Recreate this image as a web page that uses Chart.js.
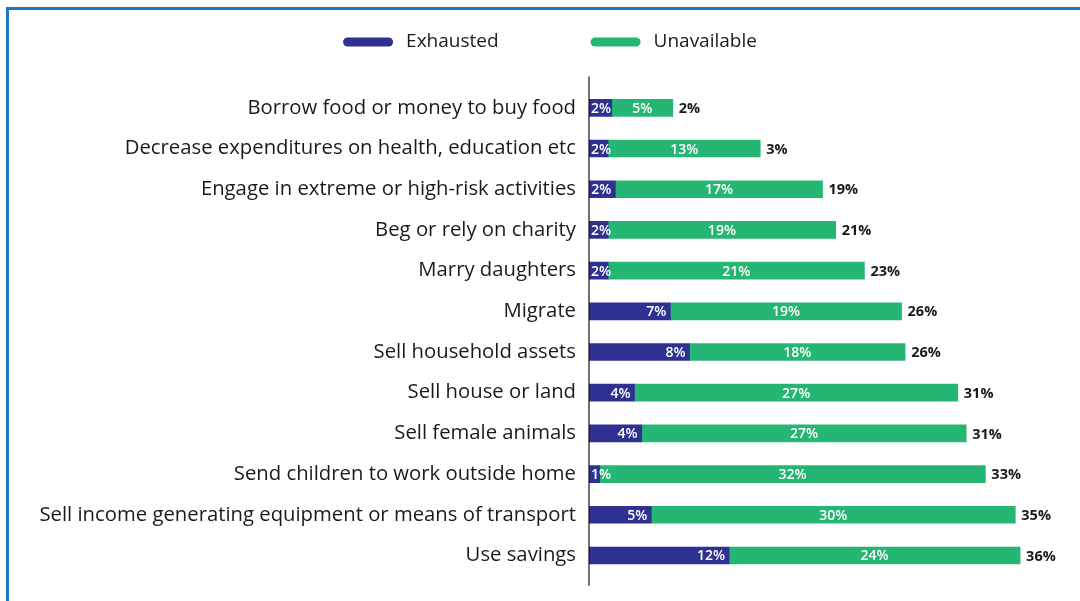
<!DOCTYPE html>
<html>
<head>
<meta charset="utf-8">
<script src="https://cdn.jsdelivr.net/npm/chart.js@4/dist/chart.umd.min.js"></script>
<style>
  html, body { margin: 0; padding: 0; background: #fff; }
  #wrap { position: relative; width: 1080px; height: 601px; overflow: hidden; }
  #frame { position: absolute; left: 6px; top: 7px; width: 1100px; height: 700px;
           border-left: 3px solid #1f78c1; border-top: 3px solid #1f78c1; }
  #chart { position: absolute; left: 0; top: 0; }
</style>
</head>
<body>
<div id="wrap">
  <div id="frame"></div>
  <canvas id="chart" width="1080" height="601"></canvas>
</div>
<script>
const categories = [
  'Borrow food or money to buy food',
  'Decrease expenditures on health, education etc',
  'Engage in extreme or high-risk activities',
  'Beg or rely on charity',
  'Marry daughters',
  'Migrate',
  'Sell household assets',
  'Sell house or land',
  'Sell female animals',
  'Send children to work outside home',
  'Sell income generating equipment or means of transport',
  'Use savings'
];
const exhausted   = [1.9, 1.6, 2.2, 1.6, 1.6, 6.8, 8.4, 3.8, 4.4, 0.9, 5.2, 11.7];
const unavailable = [5.1, 12.7, 17.3, 19.0, 21.4, 19.3, 18.0, 27.0, 27.1, 32.2, 30.4, 24.3];
// total labels as printed in the source (first two don't add up, kept as shown)
const totalLabels = ['2%', '3%', '19%', '21%', '23%', '26%', '26%', '31%', '31%', '33%', '35%', '36%'];
const seriesNames = ['Exhausted', 'Unavailable'];

const BLUE = '#2e3192';
const GREEN = '#26b673';
const TEXT = '#1a1a1a';
const FONT = '"Open Sans", sans-serif';

// legend drawn by hand: the gap between the two items is wider than Chart.js allows
const legendPlugin = {
  id: 'pillLegend',
  afterDraw(chart) {
    const ctx = chart.ctx;
    ctx.save();
    ctx.font = '19px ' + FONT;
    ctx.textBaseline = 'middle';
    const cols = [BLUE, GREEN];
    const widths = seriesNames.map(n => ctx.measureText(n).width);
    const total = 50 + 13 + widths[0] + 92 + 50 + 13 + widths[1];
    let x = 550 - total / 2;
    const y = 42;
    seriesNames.forEach((name, i) => {
      ctx.fillStyle = cols[i];
      ctx.beginPath();
      ctx.roundRect(x, y - 4.5, 50, 9, 4.5);
      ctx.fill();
      ctx.fillStyle = TEXT;
      ctx.textAlign = 'left';
      ctx.fillText(name, x + 63, y);
      x += 63 + widths[i] + 92;
    });
    ctx.restore();
  }
};

const labelPlugin = {
  id: 'barLabels',
  afterDatasetsDraw(chart) {
    const ctx = chart.ctx;
    const area = chart.chartArea;
    ctx.save();
    ctx.textBaseline = 'middle';
    const inner = '600 14px ' + FONT;
    const outer = '700 14.5px ' + FONT;
    const m0 = chart.getDatasetMeta(0);
    const m1 = chart.getDatasetMeta(1);
    ctx.font = inner;
    m0.data.forEach((bar, i) => {
      const txt = Math.round(exhausted[i]) + '%';
      const w = ctx.measureText(txt).width;
      let right = bar.x - 4;
      if (right - w < area.left + 2) right = area.left + 2 + w;
      ctx.fillStyle = '#fff';
      ctx.textAlign = 'right';
      ctx.fillText(txt, right, bar.y + 1);
    });
    m1.data.forEach((bar, i) => {
      ctx.font = inner;
      ctx.fillStyle = '#fff';
      ctx.textAlign = 'center';
      ctx.fillText(Math.round(unavailable[i]) + '%', (bar.base + bar.x) / 2, bar.y + 1);
      ctx.font = outer;
      ctx.fillStyle = TEXT;
      ctx.textAlign = 'left';
      ctx.fillText(totalLabels[i], bar.x + 6, bar.y + 1);
    });
    // vertical axis line, a bit longer than the category band
    ctx.strokeStyle = '#111';
    ctx.lineWidth = 1.2;
    ctx.beginPath();
    ctx.moveTo(area.left, area.top - 11);
    ctx.lineTo(area.left, area.bottom + 10);
    ctx.stroke();
    ctx.restore();
  }
};

new Chart(document.getElementById('chart'), {
  type: 'bar',
  data: {
    labels: categories,
    datasets: [
      { label: seriesNames[0], data: exhausted, backgroundColor: BLUE },
      { label: seriesNames[1], data: unavailable, backgroundColor: GREEN }
    ]
  },
  options: {
    indexAxis: 'y',
    responsive: false,
    animation: false,
    datasets: { bar: { barThickness: 17 } },
    layout: { padding: { top: 0, right: 12, bottom: 14, left: 0 } },
    scales: {
      x: {
        stacked: true, min: 0, max: 40, position: 'top',
        grid: { display: false, drawTicks: false }, border: { display: false },
        ticks: { display: false },
        afterFit(scale) { scale.height = 87.5; }
      },
      y: {
        stacked: true,
        grid: { display: false, drawTicks: false }, border: { display: false },
        ticks: { color: TEXT, font: { family: FONT, size: 20.3 }, padding: 13, autoSkip: false },
        afterFit(scale) { scale.width = 589; }
      }
    },
    plugins: {
      legend: { display: false },
      tooltip: { enabled: false }
    }
  },
  plugins: [labelPlugin, legendPlugin]
});
</script>
</body>
</html>
